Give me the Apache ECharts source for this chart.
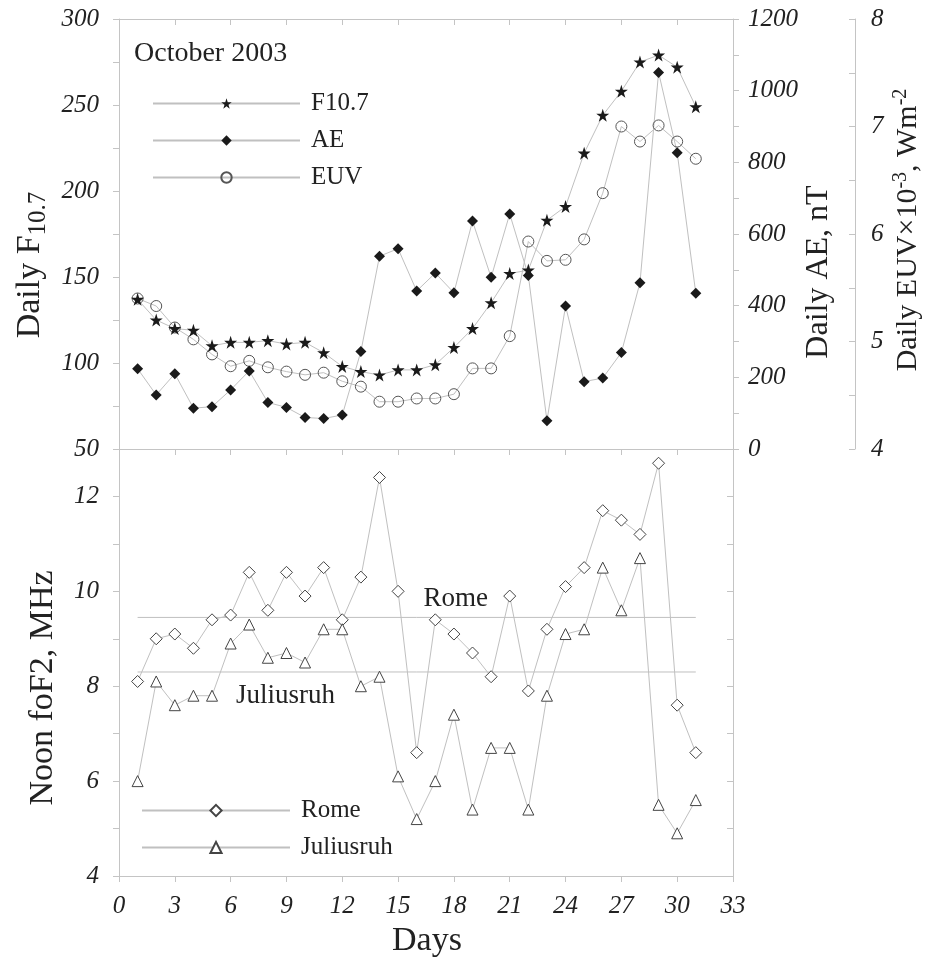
<!DOCTYPE html>
<html><head><meta charset="utf-8">
<script src="https://cdn.jsdelivr.net/npm/echarts@6/dist/echarts.min.js"></script>
<style>html,body{margin:0;padding:0;background:#fff}#c{width:929px;height:959px}</style>
</head><body><div id="c"></div>
<script>
// ---- data ----
const days = [1,2,3,4,5,6,7,8,9,10,11,12,13,14,15,16,17,18,19,20,21,22,23,24,25,26,27,28,29,30,31];
const f107 = [137,125,120,119,110,112,112,113,111,112,106,98,95,93,96,96,99,109,120,135,152,154,183,191,222,244,258,275,279,272,249];
const ae = [224,151,210,114,118,165,218,130,116,88,85,95,272,538,559,441,491,436,636,479,656,484,79,399,188,198,269,464,1051,827,435];
const euv = [5.40,5.33,5.13,5.02,4.88,4.77,4.82,4.76,4.72,4.69,4.71,4.63,4.58,4.44,4.44,4.47,4.47,4.51,4.75,4.75,5.05,5.93,5.75,5.76,5.95,6.38,7.00,6.86,7.01,6.86,6.70];
const rome = [8.1,9.0,9.1,8.8,9.4,9.5,10.4,9.6,10.4,9.9,10.5,9.4,10.3,12.4,10.0,6.6,9.4,9.1,8.7,8.2,9.9,7.9,9.2,10.1,10.5,11.7,11.5,11.2,12.7,7.6,6.6];
const juliusruh = [6.0,8.1,7.6,7.8,7.8,8.9,9.3,8.6,8.7,8.5,9.2,9.2,8.0,8.2,6.1,5.2,6.0,7.4,5.4,6.7,6.7,5.4,7.8,9.1,9.2,10.5,9.6,10.7,5.5,4.9,5.6];
const medianDays = [1,31];
const romeMedian = [9.45,9.45];
const juliusruhMedian = [8.3,8.3];
const topLegend = ['F10.7','AE','EUV'];
const bottomLegend = ['Rome','Juliusruh'];

// ---- styles ----
const AXIS = '#c4c4c4';
const TXT = '#222';
const LINE = '#c0c0c0';
const FONT = 'Liberation Serif';
const STAR = 'path://M50,0L61.2,34.5L97.6,34.5L68.2,55.9L79.4,90.5L50,69.1L20.6,90.5L31.8,55.9L2.4,34.5L38.8,34.5Z';

function pairs(xs, ys) { return xs.map((x, i) => [x, ys[i]]); }

const tickLabel = (extra) => Object.assign({fontFamily: FONT, fontStyle: 'italic', fontSize: 25, color: TXT}, extra);
const axisLine = {show: true, onZero: false, lineStyle: {color: AXIS, width: 1}};
const tick = (inside) => ({show: true, inside: inside, length: 6, lineStyle: {color: AXIS, width: 1}});
const noSplit = {show: false};

function vTitle(text, x, y, size, rich) {
  return {type: 'text', x: x, y: y, rotation: Math.PI / 2, silent: true,
    style: {text: text, fontFamily: FONT, fontSize: size, fill: TXT, align: 'center', verticalAlign: 'middle', rich: rich || {}}};
}

const chart = echarts.init(document.getElementById('c'), null, {renderer: 'canvas'});
const option = {
  animation: false,
  backgroundColor: '#fff',
  grid: [
    {left: 119, top: 19, width: 614, height: 430},
    {left: 119, top: 449, width: 614, height: 427}
  ],
  xAxis: [
    {gridIndex: 0, type: 'value', min: 0, max: 33, interval: 3, position: 'bottom',
     axisLine: axisLine, axisTick: tick(false), axisLabel: {show: false}, splitLine: noSplit},
    {gridIndex: 0, type: 'value', min: 0, max: 33, interval: 3, position: 'top',
     axisLine: axisLine, axisTick: tick(true), axisLabel: {show: false}, splitLine: noSplit},
    {gridIndex: 1, type: 'value', min: 0, max: 33, interval: 3, position: 'bottom',
     axisLine: axisLine, axisTick: tick(false), axisLabel: tickLabel({margin: 18}), splitLine: noSplit}
  ],
  yAxis: [
    {gridIndex: 0, type: 'value', min: 50, max: 300, interval: 25, position: 'left',
     axisLine: axisLine, axisTick: tick(false), splitLine: noSplit,
     axisLabel: tickLabel({margin: 20, formatter: v => (v % 50 === 0 ? String(v) : '')})},
    {gridIndex: 0, type: 'value', min: 0, max: 1200, interval: 100, position: 'right',
     axisLine: axisLine, axisTick: tick(false), splitLine: noSplit,
     axisLabel: tickLabel({margin: 15, formatter: v => (v % 200 === 0 ? String(v) : '')})},
    {gridIndex: 0, type: 'value', min: 4, max: 8, interval: 0.5, position: 'right', offset: 122,
     axisLine: axisLine, axisTick: tick(true), splitLine: noSplit,
     axisLabel: tickLabel({margin: 16, formatter: v => (Number.isInteger(v) ? String(v) : '')})},
    {gridIndex: 1, type: 'value', min: 4, max: 13, interval: 1, position: 'left',
     axisLine: axisLine, axisTick: tick(false), splitLine: noSplit,
     axisLabel: tickLabel({margin: 20, formatter: v => (v % 2 === 0 && v <= 12 ? String(v) : '')})},
    {gridIndex: 1, type: 'value', min: 4, max: 13, interval: 1, position: 'right',
     axisLine: axisLine, axisTick: tick(true), splitLine: noSplit, axisLabel: {show: false}}
  ],
  legend: [
    {data: topLegend, orient: 'vertical', left: 147, top: 86, itemWidth: 147, itemHeight: 13, itemGap: 12,
     selectedMode: false, textStyle: {fontFamily: FONT, fontSize: 25, color: TXT, padding: [0, 0, 0, 6]}},
    {data: bottomLegend, orient: 'vertical', left: 136, top: 793, itemWidth: 148, itemHeight: 14, itemGap: 12,
     selectedMode: false, textStyle: {fontFamily: FONT, fontSize: 25, color: TXT, padding: [0, 0, 0, 6]}}
  ],
  graphic: [
    {type: 'text', left: 134, top: 40, silent: true,
     style: {text: 'October 2003', fontFamily: FONT, fontSize: 28, fill: TXT}},
    vTitle('Daily F{sub|10.7}', 30, 265, 34, {sub: {fontFamily: FONT, fontSize: 25, fill: TXT, padding: [16, 0, 0, 0]}}),
    vTitle('Noon foF2, MHz', 43, 688, 34),
    vTitle('Daily AE, nT', 819, 272, 32),
    vTitle('Daily EUV×10{sup|-3}, Wm{sup|-2}', 908, 230, 30, {sup: {fontFamily: FONT, fontSize: 20, fill: TXT, padding: [0, 0, 14, 0]}}),
    {type: 'text', x: 427, y: 941, silent: true,
     style: {text: 'Days', fontFamily: FONT, fontSize: 34, fill: TXT, align: 'center', verticalAlign: 'middle'}}
  ],
  series: [
    {name: 'EUV', type: 'line', xAxisIndex: 0, yAxisIndex: 2, data: pairs(days, euv),
     symbol: 'circle', symbolSize: 11, showAllSymbol: true, silent: true,
     lineStyle: {color: LINE, width: 1},
     itemStyle: {color: 'rgba(255,255,255,0)', borderColor: '#555', borderWidth: 1}},
    {name: 'AE', type: 'line', xAxisIndex: 0, yAxisIndex: 1, data: pairs(days, ae),
     symbol: 'diamond', symbolSize: 11, showAllSymbol: true, silent: true,
     lineStyle: {color: LINE, width: 1},
     itemStyle: {color: '#1a1a1a'}},
    {name: 'F10.7', type: 'line', xAxisIndex: 0, yAxisIndex: 0, data: pairs(days, f107),
     symbol: STAR, symbolSize: 13, showAllSymbol: true, silent: true,
     lineStyle: {color: LINE, width: 1},
     itemStyle: {color: '#1a1a1a'}},
    {name: 'Rome median', type: 'line', xAxisIndex: 2, yAxisIndex: 3, data: pairs(medianDays, romeMedian),
     symbol: 'none', silent: true, lineStyle: {color: LINE, width: 1},
     markPoint: {silent: true, symbol: 'circle', symbolSize: 0,
       data: [{coord: [18.1, 9.84], label: {show: true, position: 'inside', formatter: 'Rome',
         fontFamily: FONT, fontSize: 27, color: TXT}}]}},
    {name: 'Juliusruh median', type: 'line', xAxisIndex: 2, yAxisIndex: 3, data: pairs(medianDays, juliusruhMedian),
     symbol: 'none', silent: true, lineStyle: {color: LINE, width: 1},
     markPoint: {silent: true, symbol: 'circle', symbolSize: 0,
       data: [{coord: [8.95, 7.8], label: {show: true, position: 'inside', formatter: 'Juliusruh',
         fontFamily: FONT, fontSize: 27, color: TXT}}]}},
    {name: 'Rome', type: 'line', xAxisIndex: 2, yAxisIndex: 3, data: pairs(days, rome),
     symbol: 'diamond', symbolSize: 12, showAllSymbol: true, silent: true,
     lineStyle: {color: LINE, width: 1},
     itemStyle: {color: '#fff', borderColor: '#444', borderWidth: 1}},
    {name: 'Juliusruh', type: 'line', xAxisIndex: 2, yAxisIndex: 3, data: pairs(days, juliusruh),
     symbol: 'triangle', symbolSize: 11, showAllSymbol: true, silent: true,
     lineStyle: {color: LINE, width: 1},
     itemStyle: {color: '#fff', borderColor: '#444', borderWidth: 1}}
  ]
};
chart.setOption(option);
</script>
</body></html>
